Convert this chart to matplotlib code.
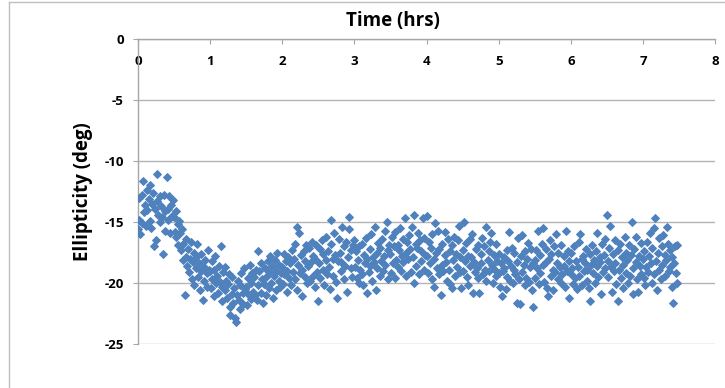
import matplotlib

matplotlib.use("Agg")

import matplotlib.pyplot as plt
import numpy as np
from matplotlib.lines import Line2D

# Ellipticity (deg) against time (hrs) in half-hour blocks
time_00 = [0.00, 0.01, 0.02, 0.03, 0.05, 0.06, 0.07, 0.08, 0.10, 0.11, 0.12, 0.13, 0.15, 0.16, 0.17, 0.18, 0.20, 0.21, 0.22, 0.23,
           0.25, 0.26, 0.27, 0.28, 0.30, 0.31, 0.32, 0.33, 0.35, 0.36, 0.37, 0.38, 0.40, 0.41, 0.42, 0.43, 0.45, 0.46, 0.47, 0.48]
ellip_00 = [-15.6, -13.0, -14.8, -16.0, -12.8, -15.1, -11.6, -14.2, -13.6, -15.3, -12.4, -14.0, -13.1, -14.9, -12.0, -15.5, -13.5, -12.6, -17.0, -13.9,
            -16.5, -11.1, -13.3, -14.4, -12.9, -15.0, -13.7, -14.6, -17.6, -12.8, -14.1, -15.7, -11.3, -13.9, -14.8, -12.9, -15.9, -13.6, -14.5, -13.2]

time_05 = [0.50, 0.51, 0.52, 0.53, 0.55, 0.56, 0.57, 0.58, 0.60, 0.61, 0.62, 0.63, 0.65, 0.66, 0.67, 0.68, 0.70, 0.71, 0.72, 0.73,
           0.75, 0.76, 0.77, 0.78, 0.80, 0.81, 0.82, 0.83, 0.85, 0.86, 0.87, 0.88, 0.90, 0.91, 0.92, 0.93, 0.95, 0.96, 0.97, 0.98]
ellip_05 = [-14.6, -15.8, -14.1, -16.2, -15.2, -16.9, -14.9, -15.9, -17.3, -15.6, -16.8, -18.1, -21.0, -16.4, -17.9, -18.6, -17.2, -19.1, -18.0, -16.6,
            -19.7, -18.3, -17.5, -20.2, -18.8, -17.9, -16.8, -19.5, -18.4, -20.6, -19.0, -17.6, -21.4, -18.7, -19.8, -18.1, -20.3, -19.2, -17.3, -18.9]

time_10 = [1.00, 1.01, 1.02, 1.03, 1.05, 1.06, 1.07, 1.08, 1.10, 1.11, 1.12, 1.13, 1.15, 1.16, 1.17, 1.18, 1.20, 1.21, 1.22, 1.23,
           1.25, 1.26, 1.27, 1.28, 1.30, 1.31, 1.32, 1.33, 1.35, 1.36, 1.37, 1.38, 1.40, 1.41, 1.42, 1.43, 1.45, 1.46, 1.47, 1.48]
ellip_10 = [-19.0, -20.4, -18.2, -19.7, -21.1, -18.9, -17.8, -20.0, -19.4, -20.8, -18.6, -19.9, -17.0, -20.3, -21.5, -19.1, -20.6, -18.7, -19.8, -21.2,
            -20.1, -19.3, -22.0, -22.6, -20.9, -19.5, -21.6, -20.4, -22.9, -23.2, -21.0, -19.8, -21.4, -20.2, -22.1, -19.2, -20.8, -21.7, -18.8, -20.5]

time_15 = [1.50, 1.51, 1.52, 1.53, 1.55, 1.56, 1.57, 1.58, 1.60, 1.61, 1.62, 1.63, 1.65, 1.66, 1.67, 1.68, 1.70, 1.71, 1.72, 1.73,
           1.75, 1.76, 1.77, 1.78, 1.80, 1.81, 1.82, 1.83, 1.85, 1.86, 1.87, 1.88, 1.90, 1.91, 1.92, 1.93, 1.95, 1.96, 1.97, 1.98]
ellip_15 = [-20.3, -21.8, -19.6, -20.9, -18.5, -20.0, -21.3, -19.2, -20.7, -19.5, -21.0, -18.9, -21.4, -17.4, -20.2, -19.0, -20.8, -18.4, -19.7, -21.6,
            -20.1, -18.8, -19.5, -21.0, -18.2, -20.4, -19.1, -17.8, -20.0, -18.6, -21.2, -19.4, -18.1, -20.6, -19.0, -17.5, -19.8, -18.5, -20.3, -19.2]

time_20 = [2.00, 2.01, 2.02, 2.03, 2.05, 2.06, 2.07, 2.08, 2.10, 2.11, 2.12, 2.13, 2.15, 2.16, 2.17, 2.18, 2.20, 2.21, 2.22, 2.23,
           2.25, 2.26, 2.27, 2.28, 2.30, 2.31, 2.32, 2.33, 2.35, 2.36, 2.37, 2.38, 2.40, 2.41, 2.42, 2.43, 2.45, 2.46, 2.47, 2.48]
ellip_20 = [-18.7, -20.1, -17.6, -19.3, -18.2, -20.7, -19.0, -17.9, -19.6, -18.4, -20.2, -17.3, -19.1, -18.0, -16.8, -19.7, -20.6, -15.4, -18.5, -15.9,
            -19.2, -17.7, -18.9, -21.1, -17.4, -19.5, -18.2, -16.9, -20.0, -18.6, -17.1, -19.8, -18.3, -16.6, -19.4, -17.8, -20.3, -18.0, -16.9, -19.1]

time_25 = [2.50, 2.51, 2.52, 2.53, 2.55, 2.56, 2.57, 2.58, 2.60, 2.61, 2.62, 2.63, 2.65, 2.66, 2.67, 2.68, 2.70, 2.71, 2.72, 2.73,
           2.75, 2.76, 2.77, 2.78, 2.80, 2.81, 2.82, 2.83, 2.85, 2.86, 2.87, 2.88, 2.90, 2.91, 2.92, 2.93, 2.95, 2.96, 2.97, 2.98]
ellip_25 = [-21.5, -18.4, -17.2, -19.6, -16.5, -18.9, -17.6, -20.2, -18.1, -16.2, -19.3, -17.4, -18.7, -20.5, -16.8, -14.8, -18.0, -19.4, -15.9, -17.7,
            -19.9, -21.2, -18.2, -16.4, -17.5, -19.0, -18.3, -15.4, -17.0, -19.7, -18.6, -16.6, -20.7, -17.9, -15.6, -14.6, -18.8, -17.3, -19.5, -16.9]

time_30 = [3.00, 3.01, 3.02, 3.03, 3.05, 3.06, 3.07, 3.08, 3.10, 3.11, 3.12, 3.13, 3.15, 3.16, 3.17, 3.18, 3.20, 3.21, 3.22, 3.23,
           3.25, 3.26, 3.27, 3.28, 3.30, 3.31, 3.32, 3.33, 3.35, 3.36, 3.37, 3.38, 3.40, 3.41, 3.42, 3.43, 3.45, 3.46, 3.47, 3.48]
ellip_30 = [-16.5, -18.7, -17.4, -19.6, -18.1, -20.0, -17.0, -18.9, -16.8, -19.3, -20.2, -17.7, -18.4, -16.3, -20.8, -18.0, -19.1, -17.2, -18.6, -16.0,
            -19.8, -17.9, -18.3, -15.4, -20.6, -17.5, -18.8, -16.7, -19.4, -17.1, -18.2, -16.4, -19.0, -17.8, -15.7, -18.5, -15.0, -17.3, -19.7, -16.9]

time_35 = [3.50, 3.51, 3.52, 3.53, 3.55, 3.56, 3.57, 3.58, 3.60, 3.61, 3.62, 3.63, 3.65, 3.66, 3.67, 3.68, 3.70, 3.71, 3.72, 3.73,
           3.75, 3.76, 3.77, 3.78, 3.80, 3.81, 3.82, 3.83, 3.85, 3.86, 3.87, 3.88, 3.90, 3.91, 3.92, 3.93, 3.95, 3.96, 3.97, 3.98]
ellip_35 = [-17.6, -19.2, -16.2, -18.4, -17.0, -19.6, -15.8, -18.1, -16.9, -18.7, -17.3, -15.5, -19.0, -17.8, -16.4, -18.3, -14.7, -17.5, -19.4, -16.6,
            -18.0, -16.1, -17.2, -19.1, -15.4, -17.9, -14.4, -20.0, -16.8, -18.6, -17.1, -15.9, -19.3, -16.5, -18.2, -17.4, -14.7, -16.3, -18.9, -17.7]

time_40 = [4.00, 4.01, 4.02, 4.03, 4.05, 4.06, 4.07, 4.08, 4.10, 4.11, 4.12, 4.13, 4.15, 4.16, 4.17, 4.18, 4.20, 4.21, 4.22, 4.23,
           4.25, 4.26, 4.27, 4.28, 4.30, 4.31, 4.32, 4.33, 4.35, 4.36, 4.37, 4.38, 4.40, 4.41, 4.42, 4.43, 4.45, 4.46, 4.47, 4.48]
ellip_40 = [-14.5, -17.8, -19.2, -16.6, -18.4, -17.1, -19.7, -16.0, -20.3, -18.0, -15.1, -17.5, -18.8, -15.7, -19.3, -17.2, -21.0, -18.5, -16.8, -19.0,
            -17.7, -15.8, -18.3, -19.8, -16.4, -18.9, -17.4, -20.1, -16.9, -20.4, -18.1, -16.2, -19.4, -17.6, -18.7, -16.5, -15.3, -19.1, -17.9, -20.4]

time_45 = [4.50, 4.51, 4.52, 4.53, 4.55, 4.56, 4.57, 4.58, 4.60, 4.61, 4.62, 4.63, 4.65, 4.66, 4.67, 4.68, 4.70, 4.71, 4.72, 4.73,
           4.75, 4.76, 4.77, 4.78, 4.80, 4.81, 4.82, 4.83, 4.85, 4.86, 4.87, 4.88, 4.90, 4.91, 4.92, 4.93, 4.95, 4.96, 4.97, 4.98]
ellip_45 = [-17.3, -19.0, -15.0, -18.2, -16.7, -19.5, -17.8, -20.2, -18.6, -16.4, -17.9, -16.0, -20.8, -18.3, -19.1, -17.2, -18.8, -16.9, -19.6, -20.8,
            -17.6, -18.4, -16.3, -19.3, -17.0, -18.9, -15.4, -19.8, -18.1, -17.4, -19.0, -16.6, -15.9, -18.5, -20.0, -17.7, -18.9, -16.8, -19.4, -18.2]

time_50 = [5.00, 5.01, 5.02, 5.03, 5.05, 5.06, 5.07, 5.08, 5.10, 5.11, 5.12, 5.13, 5.15, 5.16, 5.17, 5.18, 5.20, 5.21, 5.22, 5.23,
           5.25, 5.26, 5.27, 5.28, 5.30, 5.31, 5.32, 5.33, 5.35, 5.36, 5.37, 5.38, 5.40, 5.41, 5.42, 5.43, 5.45, 5.46, 5.47, 5.48]
ellip_50 = [-19.2, -17.6, -20.3, -18.4, -21.1, -19.0, -17.9, -18.8, -20.5, -17.3, -19.5, -18.2, -15.8, -19.8, -18.6, -17.1, -20.0, -18.9, -17.5, -19.3,
            -21.6, -18.3, -16.3, -19.7, -21.7, -17.8, -19.1, -16.1, -18.5, -20.2, -17.4, -19.6, -18.0, -16.7, -19.9, -18.7, -17.2, -20.6, -22.0, -18.4]

time_55 = [5.50, 5.51, 5.52, 5.53, 5.55, 5.56, 5.57, 5.58, 5.60, 5.61, 5.62, 5.63, 5.65, 5.66, 5.67, 5.68, 5.70, 5.71, 5.72, 5.73,
           5.75, 5.76, 5.77, 5.78, 5.80, 5.81, 5.82, 5.83, 5.85, 5.86, 5.87, 5.88, 5.90, 5.91, 5.92, 5.93, 5.95, 5.96, 5.97, 5.98]
ellip_55 = [-18.1, -19.6, -17.3, -18.8, -15.7, -20.1, -17.7, -19.2, -16.8, -18.5, -15.5, -19.9, -17.2, -18.3, -20.4, -21.1, -18.0, -16.5, -19.4, -17.6,
            -18.9, -20.6, -17.0, -19.1, -16.0, -18.4, -19.7, -17.5, -18.7, -20.0, -16.9, -19.3, -17.8, -18.6, -20.3, -15.7, -19.0, -17.4, -21.2, -18.2]

time_60 = [6.00, 6.01, 6.02, 6.03, 6.05, 6.06, 6.07, 6.08, 6.10, 6.11, 6.12, 6.13, 6.15, 6.16, 6.17, 6.18, 6.20, 6.21, 6.22, 6.23,
           6.25, 6.26, 6.27, 6.28, 6.30, 6.31, 6.32, 6.33, 6.35, 6.36, 6.37, 6.38, 6.40, 6.41, 6.42, 6.43, 6.45, 6.46, 6.47, 6.48]
ellip_60 = [-19.3, -17.5, -18.8, -20.1, -17.0, -19.6, -18.2, -20.5, -18.7, -16.6, -19.4, -16.0, -18.0, -20.2, -17.8, -19.0, -18.4, -17.2, -19.8, -18.9,
            -20.4, -17.6, -21.5, -18.5, -16.9, -19.2, -18.1, -20.0, -17.4, -18.6, -15.9, -19.5, -17.9, -18.3, -20.9, -16.8, -19.1, -17.7, -18.8, -16.4]

time_65 = [6.50, 6.51, 6.52, 6.53, 6.55, 6.56, 6.57, 6.58, 6.60, 6.61, 6.62, 6.63, 6.65, 6.66, 6.67, 6.68, 6.70, 6.71, 6.72, 6.73,
           6.75, 6.76, 6.77, 6.78, 6.80, 6.81, 6.82, 6.83, 6.85, 6.86, 6.87, 6.88, 6.90, 6.91, 6.92, 6.93, 6.95, 6.96, 6.97, 6.98]
ellip_65 = [-14.4, -18.2, -19.5, -17.1, -15.3, -18.7, -20.7, -17.6, -19.0, -16.5, -18.4, -20.1, -17.3, -21.5, -18.9, -16.8, -19.6, -17.9, -18.5, -20.4,
            -16.2, -19.2, -17.5, -18.1, -20.0, -16.9, -19.4, -17.7, -15.0, -18.8, -20.9, -17.2, -18.3, -16.2, -19.7, -20.7, -17.8, -18.6, -16.7, -19.3]

time_70 = [7.00, 7.01, 7.02, 7.03, 7.05, 7.06, 7.07, 7.08, 7.10, 7.11, 7.12, 7.13, 7.15, 7.16, 7.17, 7.18, 7.20, 7.21, 7.22, 7.23,
           7.25, 7.26, 7.27, 7.28, 7.30, 7.31, 7.32, 7.33, 7.35, 7.36, 7.37, 7.38, 7.40, 7.41, 7.42, 7.43, 7.45, 7.46, 7.47, 7.48]
ellip_70 = [-18.0, -19.6, -17.4, -20.2, -18.7, -16.6, -19.1, -17.8, -15.9, -18.4, -20.0, -17.1, -19.3, -15.5, -14.7, -18.2, -20.6, -17.5, -18.9, -16.3,
            -19.7, -17.0, -18.5, -16.1, -19.4, -17.7, -18.1, -15.4, -16.8, -19.0, -17.3, -18.7, -20.3, -17.9, -21.6, -18.4, -17.0, -19.2, -16.9, -20.0]

x_ticks = [0, 1, 2, 3, 4, 5, 6, 7, 8]
y_ticks = [0, -5, -10, -15, -20, -25]

time_hrs = np.concatenate([time_00, time_05, time_10, time_15, time_20, time_25, time_30, time_35,
                           time_40, time_45, time_50, time_55, time_60, time_65, time_70])
ellipticity = np.concatenate([ellip_00, ellip_05, ellip_10, ellip_15, ellip_20, ellip_25, ellip_30, ellip_35,
                              ellip_40, ellip_45, ellip_50, ellip_55, ellip_60, ellip_65, ellip_70])

plt.rcParams["font.family"] = ["Open Sans", "DejaVu Sans"]
plt.rcParams["font.weight"] = "bold"
plt.rcParams["axes.unicode_minus"] = False

W, H = 725, 388
fig = plt.figure(figsize=(W / 100, H / 100), dpi=100)
ax = fig.add_axes([138 / W, 1 - 344 / H, (715 - 138) / W, (344 - 39) / H])

axis_grey = "#A6A6A6"
marker_blue = "#4F81BD"
ax.plot(time_hrs, ellipticity, linestyle="none", marker="D", markersize=4.2,
        color=marker_blue, markeredgecolor=marker_blue, markeredgewidth=0.7, zorder=3)

ax.set_xlim(0, 8)
ax.set_ylim(-25, 0)
ax.set_xticks(x_ticks)
ax.set_yticks(y_ticks)

# x axis crosses at y = 0, i.e. along the top of the plot, labels underneath it
ax.spines["bottom"].set_position(("data", 0))
ax.spines["top"].set_visible(False)
ax.spines["right"].set_visible(False)
for side in ("bottom", "left"):
    ax.spines[side].set_color(axis_grey)
    ax.spines[side].set_linewidth(1.0)

ax.yaxis.grid(True, color="#B3B3B3", linewidth=1.0)
ax.set_axisbelow(True)

ax.tick_params(axis="x", direction="out", length=3.6, width=0.8, color=axis_grey, pad=8, labelsize=9.5)
ax.tick_params(axis="y", direction="out", length=3.6, width=0.8, color=axis_grey, pad=6.5, labelsize=9.5)
for lbl in ax.get_xticklabels() + ax.get_yticklabels():
    lbl.set_fontweight("bold")

fig.text(393 / W, 1 - 21 / H, "Time (hrs)", ha="center", va="center", fontsize=13.5, fontweight="bold")
fig.text(83 / W, 1 - 192 / H, "Ellipticity (deg)", ha="center", va="center", rotation=90,
         fontsize=13.5, fontweight="bold")

# chart-area border (only left and top edges fall inside the picture)
fig.add_artist(Line2D([9 / W, 9 / W], [0, 1 - 2 / H], color="#BFBFBF", linewidth=1.0))
fig.add_artist(Line2D([9 / W, 1], [1 - 2 / H, 1 - 2 / H], color="#BFBFBF", linewidth=1.0))

fig.savefig("out.png", dpi=100)
plt.close(fig)
